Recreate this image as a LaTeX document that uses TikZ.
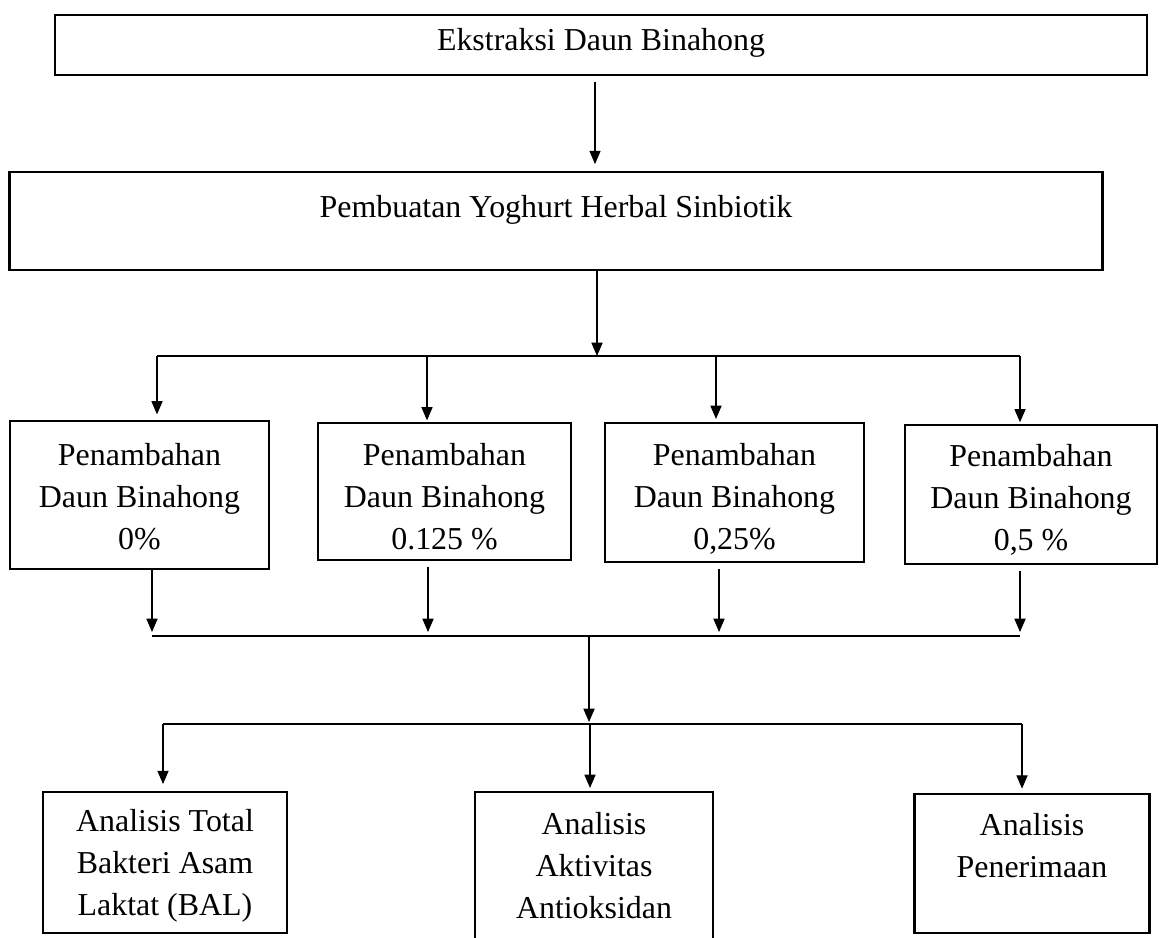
\documentclass[tikz,border=0pt]{standalone}
\usepackage{fontspec}
\setmainfont{Liberation Serif}
\usetikzlibrary{arrows.meta,calc}

\begin{document}
\begin{tikzpicture}[x=0.376pt,y=-0.376pt,>={Triangle[length=5pt,width=4.2pt]},
                    font=\fontsize{12}{15.8}\selectfont]
  \tikzstyle{box}=[rectangle,draw=black,line width=1pt,align=center,inner sep=0pt]
  \tikzstyle{arr}=[->,line width=0.4pt]
  \tikzstyle{bar}=[line width=0.6pt]

  \useasboundingbox (0,0) rectangle (1159,937);

  \node[box,minimum width=410.6pt,minimum height=22.6pt,text depth=4.2pt] (ekstraksi) at (601,45) {Ekstraksi Daun Binahong};
  \node[box,minimum width=411pt,minimum height=36.8pt,text depth=11pt] (pembuatan) at (556,221) {Pembuatan Yoghurt Herbal Sinbiotik};

  \node[box,minimum width=97.4pt,minimum height=55.6pt,text height=41.2pt] (p0) at (139.5,495) {Penambahan\\Daun Binahong\\0\%};
  \node[box,minimum width=95.1pt,minimum height=51.5pt,text height=43.5pt] (p125) at (444.5,491.5) {Penambahan\\Daun Binahong\\0.125 \%};
  \node[box,minimum width=97.4pt,minimum height=52.3pt,text height=44.9pt] (p25) at (734.5,492.5) {Penambahan\\Daun Binahong\\0,25\%};
  \node[box,minimum width=94.8pt,minimum height=52.3pt,text height=44.3pt] (p5) at (1031,494.5) {Penambahan\\Daun Binahong\\0,5 \%};

  \node[box,minimum width=91.7pt,minimum height=53pt,text height=42.7pt] (bal) at (165,862.5) {Analisis Total\\Bakteri Asam\\Laktat (BAL)};
  \node[box,minimum width=89.5pt,minimum height=58.7pt,text depth=3.8pt] (antiox) at (594,870) {Analisis\\Aktivitas\\Antioksidan};
  \node[box,minimum width=88.4pt,minimum height=52.3pt,text depth=13.6pt] (terima) at (1032,863.5) {Analisis\\Penerimaan};

  % branch points
  \coordinate (stem) at (595,120);
  \coordinate (hub1) at (597,356);
  \coordinate (bar1w) at (157,356);
  \coordinate (d1b) at (427,356);
  \coordinate (d1c) at (716,356);
  \coordinate (bar1e) at (1020,356);
  \coordinate (bar2w) at (152,636);
  \coordinate (u2b) at (428,636);
  \coordinate (u2c) at (719,636);
  \coordinate (bar2e) at (1020,636);
  \coordinate (hub2) at (589,636);
  \coordinate (hub3) at (589,722);
  \coordinate (bar3w) at (163,724);
  \coordinate (d3b) at (590,724);
  \coordinate (bar3e) at (1022,724);

  \draw[bar] (bar1w) -- (bar1e);
  \draw[bar] (bar2w) -- (bar2e);
  \draw[bar] (bar3w) -- (bar3e);

  \path (ekstraksi.south -| stem) edge[arr,shorten <=2pt,shorten >=2.5pt] (pembuatan.north -| stem)
        (pembuatan.south -| hub1) edge[arr] (hub1)
        (bar1w) edge[arr,shorten >=2pt] (p0.north -| bar1w)
        (d1b) edge[arr,shorten >=0.5pt] (p125.north -| d1b)
        (d1c) edge[arr,shorten >=1pt] (p25.north -| d1c)
        (bar1e) edge[arr,shorten >=0.5pt] (p5.north -| bar1e)
        (p0.south -| bar2w) edge[arr,shorten >=1.5pt] (bar2w)
        (p125.south -| u2b) edge[arr,shorten <=2pt,shorten >=1.5pt] (u2b)
        (p25.south -| u2c) edge[arr,shorten <=2pt,shorten >=1.5pt] (u2c)
        (p5.south -| bar2e) edge[arr,shorten <=2pt,shorten >=1.5pt] (bar2e)
        (hub2) edge[arr] (hub3)
        (bar3w) edge[arr,shorten >=2.5pt] (bal.north -| bar3w)
        (d3b) edge[arr,shorten >=1pt] (antiox.north -| d3b)
        (bar3e) edge[arr,shorten >=1.5pt] (terima.north -| bar3e);
\end{tikzpicture}
\end{document}
